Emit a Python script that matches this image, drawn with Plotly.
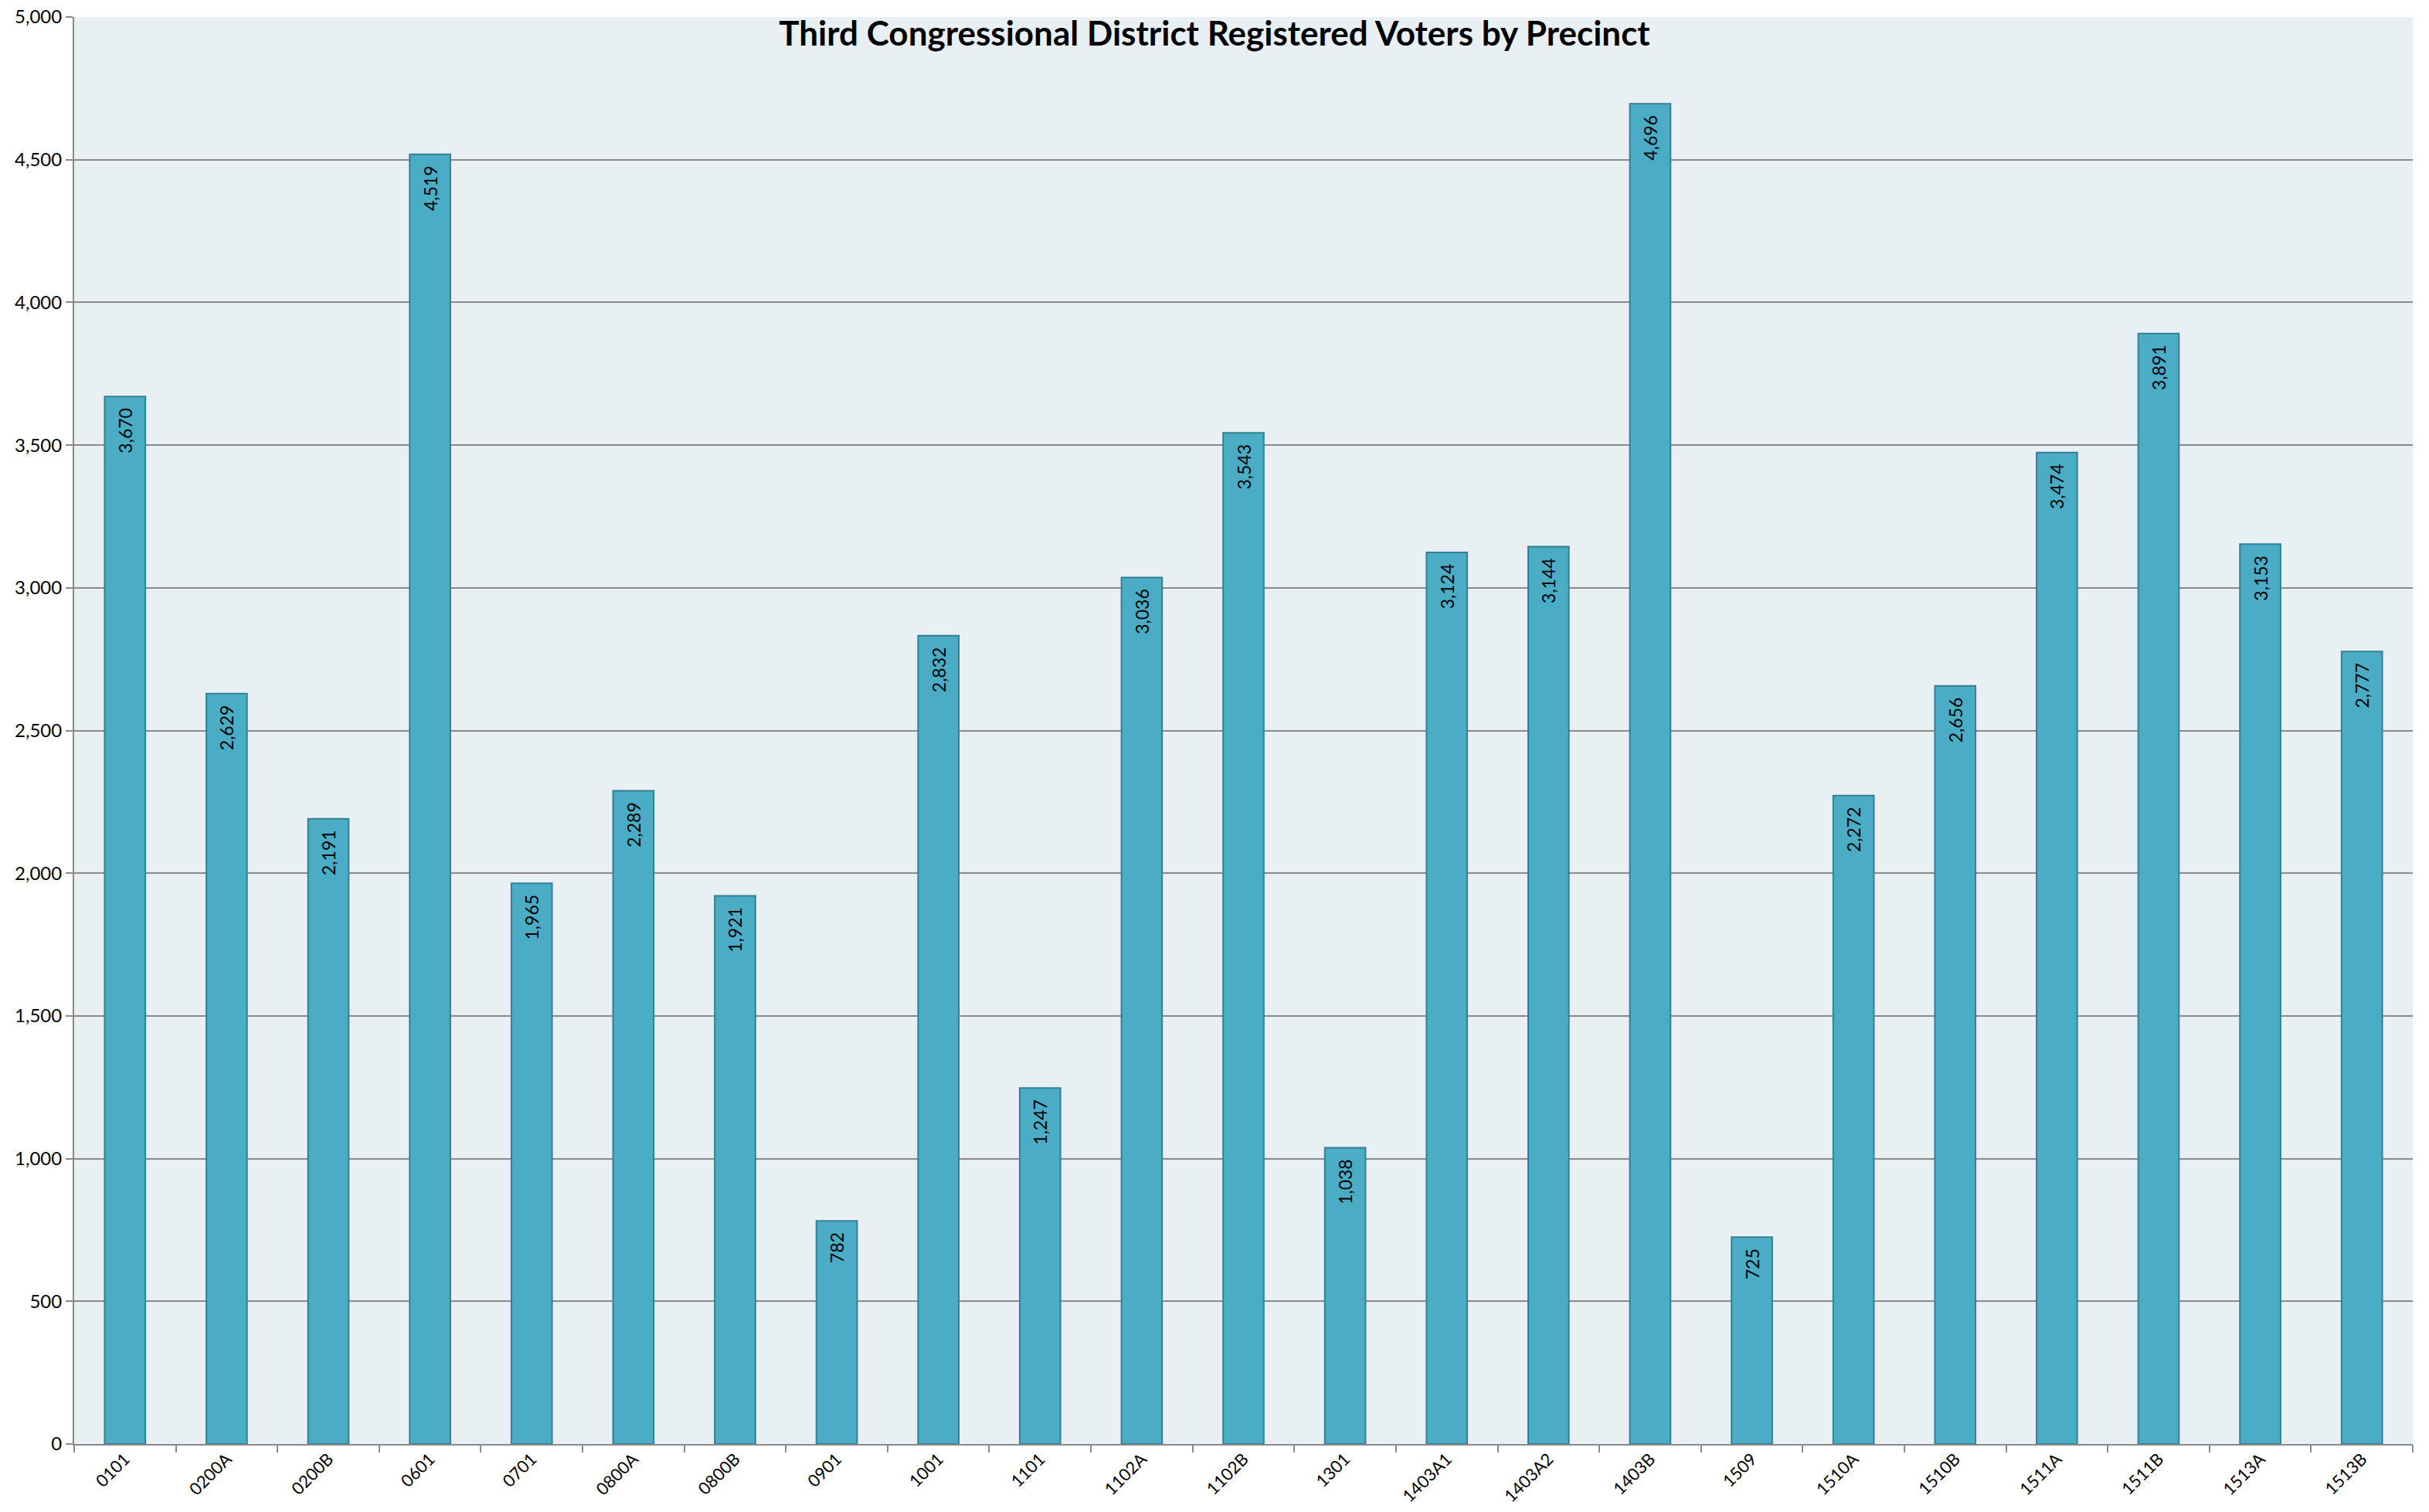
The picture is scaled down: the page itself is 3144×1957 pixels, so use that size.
import plotly.graph_objects as go

precincts = ["0101", "0200A", "0200B", "0601", "0701", "0800A", "0800B", "0901",
             "1001", "1101", "1102A", "1102B", "1301", "1403A1", "1403A2", "1403B",
             "1509", "1510A", "1510B", "1511A", "1511B", "1513A", "1513B"]
voters = [3670, 2629, 2191, 4519, 1965, 2289, 1921, 782,
          2832, 1247, 3036, 3543, 1038, 3124, 3144, 4696,
          725, 2272, 2656, 3474, 3891, 3153, 2777]
y_ticks = list(range(0, 5001, 500))

title_text = "Third Congressional District Registered Voters by Precinct"

FONT = "Lato"
GRID = "#8a8a8a"

W, H = 3144, 1957

fig = go.Figure()
fig.add_trace(go.Bar(
    x=precincts,
    y=voters,
    width=0.4,
    marker=dict(color="#4BACC6", line=dict(color="#357F95", width=2)),
    text=[f"{v:,}" + "\u00a0\u00a0" for v in voters],
    textposition="inside",
    insidetextanchor="end",
    textangle=-90,
    textfont=dict(family=FONT, size=23, color="#000000"),
    constraintext="none",
    cliponaxis=False,
    hoverinfo="x+y",
))

fig.update_layout(
    width=W,
    height=H,
    margin=dict(l=96, r=21, t=22, b=88),
    paper_bgcolor="#FFFFFF",
    plot_bgcolor="#E9F0F4",
    showlegend=False,
    font=dict(family=FONT, size=23, color="#000000"),
    title=dict(
        text="<b>" + title_text + "</b>",
        x=0.5, xanchor="center",
        y=1 - 44 / H, yanchor="middle",
        font=dict(family=FONT, size=44, color="#000000"),
    ),
    bargap=0.6,
)

fig.update_xaxes(
    type="category",
    automargin=False,
    tickangle=-45,
    tickson="boundaries",
    ticks="outside",
    ticklen=9,
    tickwidth=2,
    tickcolor=GRID,
    ticklabelstandoff=-4,
    ticklabeloverflow="allow",
    showline=True,
    linecolor=GRID,
    linewidth=2,
    showgrid=False,
    tickfont=dict(family=FONT, size=22, color="#000000"),
)

fig.update_yaxes(
    range=[0, 5000],
    automargin=False,
    tickvals=y_ticks,
    tickformat=",",
    ticks="outside",
    ticklen=9,
    tickwidth=2,
    tickcolor=GRID,
    ticklabeloverflow="allow",
    showline=True,
    linecolor=GRID,
    linewidth=2,
    showgrid=True,
    gridcolor=GRID,
    gridwidth=2,
    zeroline=False,
    tickfont=dict(family=FONT, size=24, color="#000000"),
)

fig.write_html(
    "out.html",
    config={"displayModeBar": False},
    post_script="document.body.style.margin='0';document.body.style.overflow='hidden';",
)
